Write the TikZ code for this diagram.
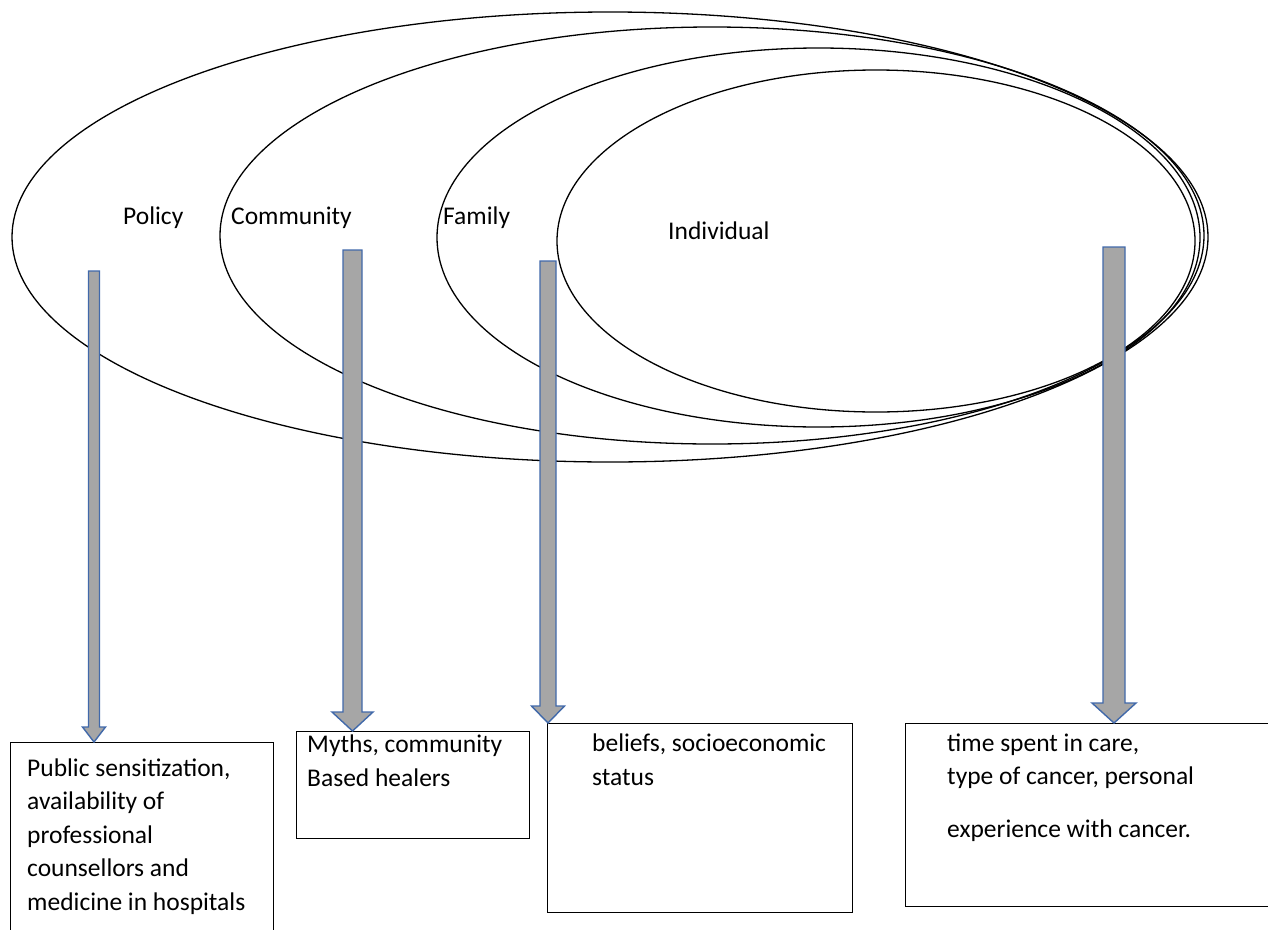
\documentclass[tikz,border=0pt]{standalone}
\usepackage{fontspec}
\setmainfont{Carlito}
\usetikzlibrary{shapes.geometric,calc}

\definecolor{shaftgray}{RGB}{166,166,166}
\definecolor{edgeblue}{RGB}{65,105,170}

\tikzset{
  ring/.style={ellipse, draw, line width=1.3pt, inner sep=0pt},
  layer/.style={font=\fontsize{25.5}{30}\selectfont, inner sep=0pt, anchor=base west},
  infobox/.style={rectangle, draw, line width=1.3pt, inner sep=0pt, anchor=north west},
  infotext/.style={font=\fontsize{25.5}{33.5}\selectfont, align=left, inner sep=0pt, anchor=base west},
  blockarrow/.style={fill=shaftgray, draw=edgeblue, line width=1.4pt, line join=miter}
}

% block arrow from #1 down to #2: half shaft #3, half head #4, head length #5
\newcommand{\layerarrow}[5]{%
  \draw[blockarrow] ($(#1)+(-#3,0)$) -- ($(#2)+(-#3,-#5)$) -- ($(#2)+(-#4,-#5)$) -- (#2)
    -- ($(#2)+(#4,-#5)$) -- ($(#2)+(#3,-#5)$) -- ($(#1)+(#3,0)$) -- cycle;}

\begin{document}
\begin{tikzpicture}[x=1pt, y=-1pt]
  \useasboundingbox (0,0) rectangle (1268,929);
  \clip (0,0) rectangle (1268,929);

  % rings
  \node[ring, minimum width=1196, minimum height=450] (policy)     at (610,237)     {};
  \node[ring, minimum width=984,  minimum height=417] (community)  at (712,235.5)   {};
  \node[ring, minimum width=763,  minimum height=379] (family)     at (818.5,237.5) {};
  \node[ring, minimum width=638,  minimum height=342] (individual) at (876,241)     {};

  % ring labels
  \node[layer] (lpolicy)     at (123,224) {Policy};
  \node[layer] (lcommunity)  at (231,224) {Community};
  \node[layer] (lfamily)     at (443,224) {Family};
  \node[layer] (lindividual) at (668,239) {Individual};

  % boxes
  \node[infobox, minimum width=263, minimum height=210] (bpolicy)     at (9.5,742) {};
  \node[infobox, minimum width=233, minimum height=107] (bcommunity)  at (296,731) {};
  \node[infobox, minimum width=305, minimum height=189] (bfamily)     at (547,723) {};
  \node[infobox, minimum width=380, minimum height=183] (bindividual) at (905,723) {};

  % box texts (anchored at the baseline of the last line)
  \node[infotext] (tpolicy) at (27,910)
    {Public sensitization,\\availability of\\professional\\counsellors and\\medicine in hospitals};
  \node[infotext] (tcommunity) at (307,786) {Myths, community\\Based healers};
  \node[infotext] (tfamily) at (592,785) {beliefs, socioeconomic\\status};
  \node[infotext] (tindividual) at (947,837)
    {time spent in care,\\type of cancer, personal\\[19pt]experience with cancer.};

  % arrows
  \coordinate (apolicy)     at (94,271);
  \coordinate (acommunity)  at (352.5,250);
  \coordinate (afamily)     at (548,261);
  \coordinate (aindividual) at (1114,247);
  \layerarrow{apolicy}{apolicy |- bpolicy.north}{5.5}{11.5}{15}
  \layerarrow{acommunity}{acommunity |- bcommunity.north}{9.5}{20.5}{19}
  \layerarrow{afamily}{afamily |- bfamily.north}{8}{16.5}{17}
  \layerarrow{aindividual}{aindividual |- bindividual.north}{11}{22}{20}
\end{tikzpicture}
\end{document}
